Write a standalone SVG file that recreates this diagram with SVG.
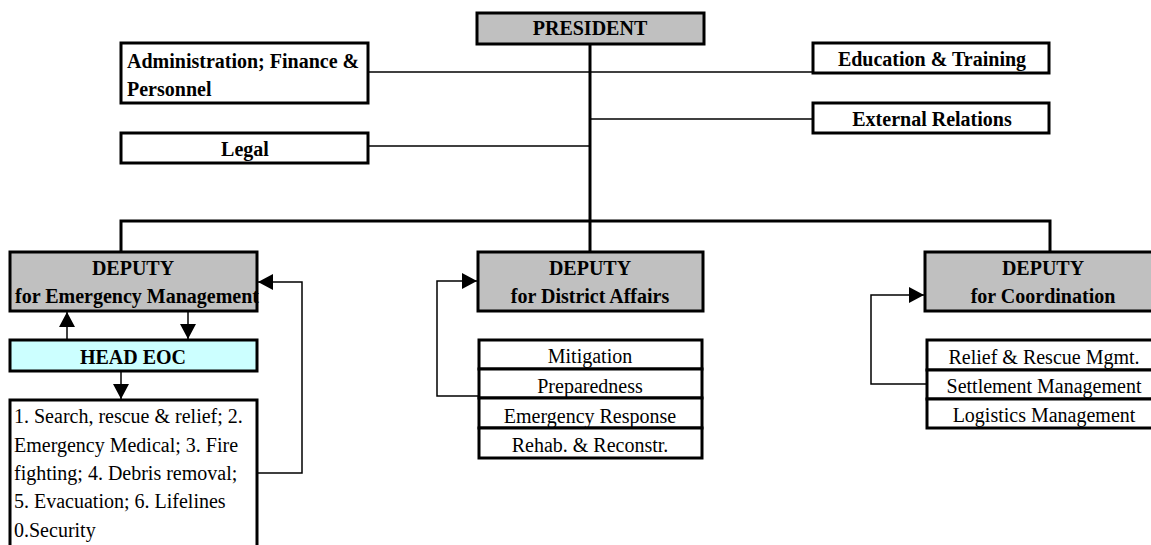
<svg xmlns="http://www.w3.org/2000/svg" width="1151" height="545" viewBox="0 0 1151 545">
  <style>
    .box { stroke: #000; stroke-width: 3; fill: #fff; }
    .grey { fill: #c0c0c0; }
    .cyan { fill: #ccffff; }
    .row { stroke: #000; stroke-width: 3; fill: #fff; }
    .bold { font-family: "Liberation Serif", "DejaVu Serif", serif; font-weight: bold; font-size: 20px; fill: #000; }
    .reg { font-family: "Liberation Serif", "DejaVu Serif", serif; font-size: 20px; fill: #000; }
    .mid { text-anchor: middle; }
    .thick { stroke: #000; stroke-width: 3; fill: none; }
    .thin { stroke: #000; stroke-width: 1.5; fill: none; }
    .arrow { stroke: #000; stroke-width: 1.5; fill: none; marker-end: url(#head); }
  </style>
  <defs>
    <marker id="head" markerUnits="userSpaceOnUse" viewBox="0 0 15 16" refX="15" refY="8" markerWidth="15" markerHeight="16" orient="auto">
      <path d="M0,0 L15,8 L0,16 z" fill="#000"/>
    </marker>
  </defs>

  <rect width="1151" height="545" fill="#fff"/>

  <!-- connectors -->
  <g id="connectors">
    <!-- main trunk -->
    <line class="thick" x1="590" y1="44" x2="590" y2="252"/>
    <!-- staff offices -->
    <line class="thin" x1="368" y1="72" x2="813" y2="72"/>
    <line class="thin" x1="590" y1="119" x2="813" y2="119"/>
    <line class="thin" x1="368" y1="146" x2="590" y2="146"/>
    <!-- deputies bar -->
    <polyline class="thick" points="121,252 121,221 1050,221 1050,252"/>
    <!-- emergency management loop -->
    <line class="arrow" x1="67" y1="340" x2="67" y2="312"/>
    <line class="arrow" x1="188" y1="311" x2="188" y2="339"/>
    <line class="arrow" x1="121" y1="371" x2="121" y2="399"/>
    <polyline class="arrow" points="257,473 302,473 302,282 258,282"/>
    <!-- district affairs loop -->
    <polyline class="arrow" points="479,396 437,396 437,281 477,281"/>
    <!-- coordination loop -->
    <polyline class="arrow" points="927,384 871,384 871,295 924,295"/>
  </g>

  <g id="president">
    <rect class="box grey" x="477" y="13" width="227" height="31"/>
    <text class="bold mid" x="590" y="35">PRESIDENT</text>
  </g>

  <g id="admin">
    <rect class="box" x="121" y="43" width="247" height="60"/>
    <text class="bold" x="127" y="68">Administration; Finance &amp;</text>
    <text class="bold" x="127" y="96">Personnel</text>
  </g>

  <g id="legal">
    <rect class="box" x="121" y="133" width="247" height="30"/>
    <text class="bold mid" x="245" y="156">Legal</text>
  </g>

  <g id="education">
    <rect class="box" x="813" y="43" width="236" height="30"/>
    <text class="bold mid" x="932" y="66">Education &amp; Training</text>
  </g>

  <g id="external">
    <rect class="box" x="813" y="103" width="236" height="30"/>
    <text class="bold mid" x="932" y="126">External Relations</text>
  </g>

  <g id="deputy-em">
    <rect class="box grey" x="10" y="252" width="247" height="59"/>
    <text class="bold mid" x="133" y="275">DEPUTY</text>
    <text class="bold mid" x="137" y="303">for Emergency Management</text>
  </g>

  <g id="head-eoc">
    <rect class="box cyan" x="10" y="340" width="247" height="31"/>
    <text class="bold mid" x="133" y="364">HEAD EOC</text>
  </g>

  <g id="eoc-tasks">
    <path class="thick" d="M10,548 V400 H257 V548"/>
    <text class="reg" x="14" y="423">1. Search, rescue &amp; relief; 2.</text>
    <text class="reg" x="14" y="452">Emergency Medical; 3. Fire</text>
    <text class="reg" x="14" y="480">fighting; 4. Debris removal;</text>
    <text class="reg" x="14" y="508">5. Evacuation; 6. Lifelines</text>
    <text class="reg" x="14" y="537">0.Security</text>
  </g>

  <g id="deputy-district">
    <rect class="box grey" x="478" y="252" width="225" height="59"/>
    <text class="bold mid" x="590" y="275">DEPUTY</text>
    <text class="bold mid" x="590" y="303">for District Affairs</text>
  </g>

  <g id="district-units">
    <rect class="row" x="479" y="340" width="223" height="29"/>
    <rect class="row" x="479" y="369" width="223" height="29"/>
    <rect class="row" x="479" y="398" width="223" height="30"/>
    <rect class="row" x="479" y="428" width="223" height="30"/>
    <text class="reg mid" x="590" y="363">Mitigation</text>
    <text class="reg mid" x="590" y="393">Preparedness</text>
    <text class="reg mid" x="590" y="423">Emergency Response</text>
    <text class="reg mid" x="590" y="452">Rehab. &amp; Reconstr.</text>
  </g>

  <g id="deputy-coordination">
    <rect class="box grey" x="925" y="252" width="240" height="59"/>
    <text class="bold mid" x="1043" y="275">DEPUTY</text>
    <text class="bold mid" x="1043" y="303">for Coordination</text>
  </g>

  <g id="coordination-units">
    <rect class="row" x="927" y="340" width="240" height="30"/>
    <rect class="row" x="927" y="370" width="240" height="29"/>
    <rect class="row" x="927" y="399" width="240" height="29"/>
    <text class="reg mid" x="1044" y="364">Relief &amp; Rescue Mgmt.</text>
    <text class="reg mid" x="1044" y="393">Settlement Management</text>
    <text class="reg mid" x="1044" y="422">Logistics Management</text>
  </g>
</svg>
